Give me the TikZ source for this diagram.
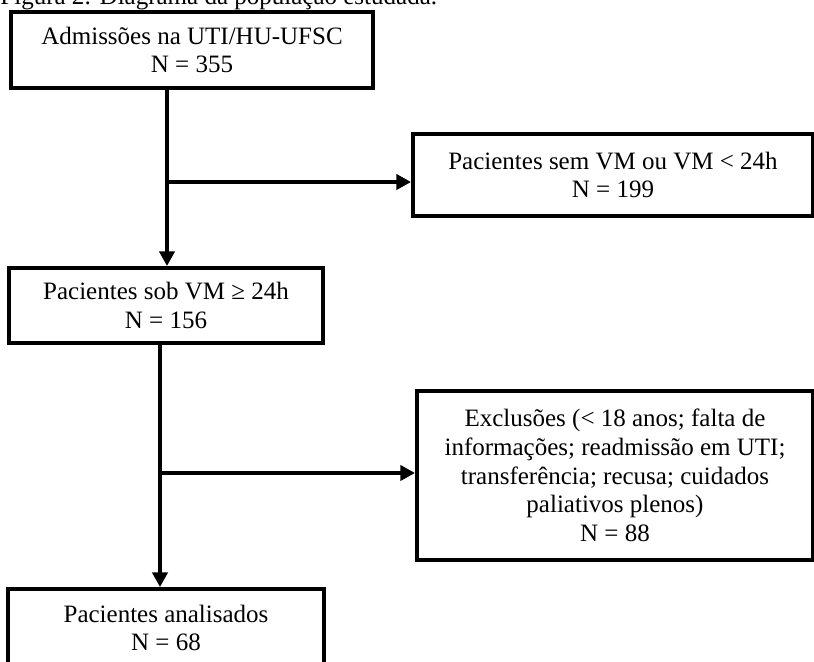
\documentclass[tikz,border=0pt]{standalone}
\usepackage{fontspec}
\setmainfont{Liberation Serif}
\usetikzlibrary{arrows.meta}
\begin{document}
\begin{tikzpicture}[x=0.48pt,y=-0.48pt,
  box/.style={draw,line width=1.9pt,inner sep=0pt,align=center,font=\fontsize{12}{13.8}\selectfont},
  conn/.style={line width=1.8pt,-{Triangle[length=7pt,width=7.2pt]}},
  seg/.style={line width=1.8pt}]
\useasboundingbox (0,0) rectangle (814,662);
\node[anchor=base west,inner sep=0pt,font=\fontsize{12}{13.8}\selectfont] (title) at (0,5) {Figura 2: Diagrama da população estudada.};
\node[box,minimum width=173.8pt,minimum height=36.5pt] (b1) at (192,50) {Admissões na UTI/HU-UFSC\\N = 355};
\node[box,minimum width=192pt,minimum height=39.4pt] (b3) at (613,175) {Pacientes sem VM ou VM < 24h\\N = 199};
\node[box,minimum width=150.7pt,minimum height=36pt] (b2) at (166,305.5) {Pacientes sob VM ≥ 24h\\N = 156};
\node[box,minimum width=190.1pt,minimum height=81.1pt] (b5) at (615,475.5) {Exclusões (< 18 anos; falta de\\informações; readmissão em UTI;\\transferência; recusa; cuidados\\paliativos plenos)\\N = 88};
\node[box,minimum width=151.7pt,minimum height=37.4pt] (b4) at (166,628) {Pacientes analisados\\N = 68};
\coordinate (j1) at (167,182);
\coordinate (j2) at (160,473);
\draw[conn] (b1.south -| j1) -- (b2.north -| j1);
\draw[conn] (j1) -- (j1 -| b3.west);
\draw[conn] (b2.south -| j2) -- (b4.north -| j2);
\draw[conn] (j2) -- (j2 -| b5.west);
\end{tikzpicture}
\end{document}
